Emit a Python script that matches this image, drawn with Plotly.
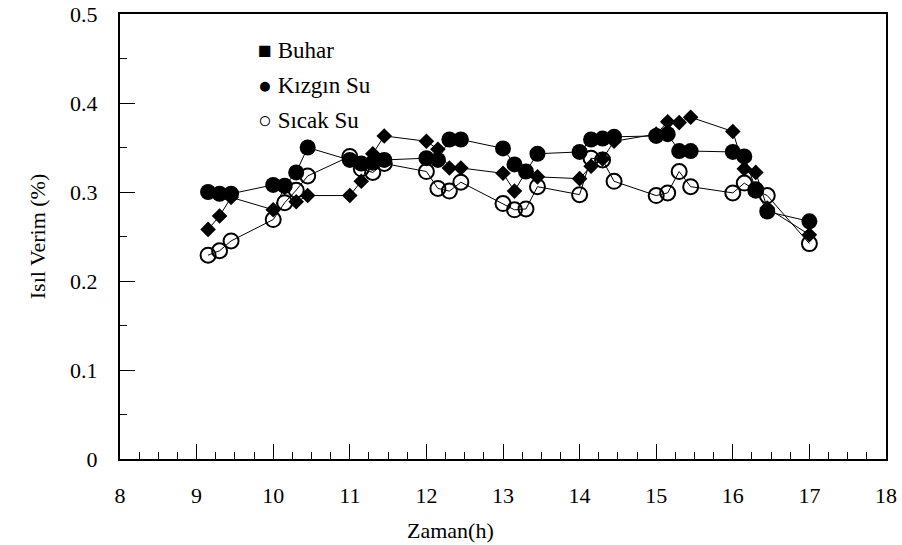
import plotly.graph_objects as go

# Measurement times (h.mm style readings plotted as decimals)
zaman = [9.15, 9.3, 9.45,
         10.0, 10.15, 10.3, 10.45,
         11.0, 11.15, 11.3, 11.45,
         12.0, 12.15, 12.3, 12.45,
         13.0, 13.15, 13.3, 13.45,
         14.0, 14.15, 14.3, 14.45,
         15.0, 15.15, 15.3, 15.45,
         16.0, 16.15, 16.3, 16.45,
         17.0]

buhar = [0.258, 0.273, 0.294,
         0.280, 0.305, 0.289, 0.296,
         0.296, 0.312, 0.343, 0.363,
         0.357, 0.348, 0.327, 0.327,
         0.321, 0.301, 0.323, 0.317,
         0.315, 0.329, 0.337, 0.357,
         0.365, 0.379, 0.378, 0.384,
         0.368, 0.326, 0.322, 0.282,
         0.252]

kizgin_su = [0.300, 0.298, 0.298,
             0.308, 0.307, 0.322, 0.350,
             0.336, 0.332, 0.333, 0.336,
             0.338, 0.336, 0.359, 0.359,
             0.349, 0.331, 0.323, 0.343,
             0.345, 0.359, 0.360, 0.362,
             0.363, 0.365, 0.346, 0.346,
             0.345, 0.340, 0.303, 0.278,
             0.267]

sicak_su = [0.229, 0.234, 0.245,
            0.269, 0.288, 0.302, 0.318,
            0.340, 0.326, 0.322, 0.332,
            0.323, 0.304, 0.301, 0.311,
            0.287, 0.280, 0.281, 0.306,
            0.297, 0.338, 0.336, 0.312,
            0.296, 0.299, 0.323, 0.306,
            0.299, 0.310, 0.302, 0.296,
            0.242]

x_ticks = list(range(8, 19))
y_ticks = [0, 0.1, 0.2, 0.3, 0.4, 0.5]
y_tick_text = ["0", "0.1", "0.2", "0.3", "0.4", "0.5"]

legend_items = ["■ Buhar", "● Kızgın Su", "○ Sıcak Su"]
x_title = "Zaman(h)"
y_title = "Isıl Verim (%)"

FONT = "Times New Roman, Liberation Serif, DejaVu Serif, serif"
TXT = dict(family=FONT, size=22, color="black")

fig = go.Figure()

fig.add_trace(go.Scatter(
    x=zaman, y=buhar, mode="lines+markers", name="Buhar",
    line=dict(color="black", width=1),
    marker=dict(symbol="diamond", size=12, color="black"),
))
fig.add_trace(go.Scatter(
    x=zaman, y=kizgin_su, mode="lines+markers", name="Kızgın Su",
    line=dict(color="black", width=1),
    marker=dict(symbol="circle", size=16, color="black"),
))
fig.add_trace(go.Scatter(
    x=zaman, y=sicak_su, mode="lines+markers", name="Sıcak Su",
    line=dict(color="black", width=1),
    marker=dict(symbol="circle-open", size=15, color="black",
                line=dict(width=2, color="black")),
))

# Legend block as text lines in the upper-left of the plot area
for i, txt in enumerate(legend_items):
    fig.add_annotation(
        x=0.178, y=0.919 - i * 0.079, xref="paper", yref="paper",
        xanchor="left", yanchor="middle", showarrow=False,
        text=txt, font=dict(family=FONT, size=23, color="black"),
    )

# Horizontal axis title, placed below the tick labels
fig.add_annotation(
    x=0.432, y=-0.16, xref="paper", yref="paper",
    xanchor="center", yanchor="middle", showarrow=False,
    text=x_title, font=TXT,
)

fig.update_xaxes(
    range=[8, 18], tickvals=x_ticks, ticktext=[str(v) for v in x_ticks],
    ticks="inside", ticklen=15, tickwidth=1, tickcolor="black",
    minor=dict(dtick=0.25, ticks="inside", ticklen=7, tickwidth=1, tickcolor="black"),
    showline=True, linecolor="black", linewidth=2, mirror=True,
    showgrid=False, zeroline=False, automargin=False,
    tickfont=TXT, ticklabelstandoff=16,
)
fig.update_yaxes(
    range=[0, 0.5], tickvals=y_ticks, ticktext=y_tick_text,
    ticks="inside", ticklen=15, tickwidth=1, tickcolor="black",
    minor=dict(dtick=0.05, ticks="inside", ticklen=7, tickwidth=1, tickcolor="black"),
    showline=True, linecolor="black", linewidth=2, mirror=True,
    showgrid=False, zeroline=False, automargin=False,
    tickfont=TXT, ticklabelstandoff=16,
    title=dict(text=y_title, font=TXT, standoff=18),
)

fig.update_layout(
    width=902, height=545,
    margin=dict(l=120, r=16, t=14, b=86),
    plot_bgcolor="white", paper_bgcolor="white",
    showlegend=False,
)

fig.write_html("out.html")
